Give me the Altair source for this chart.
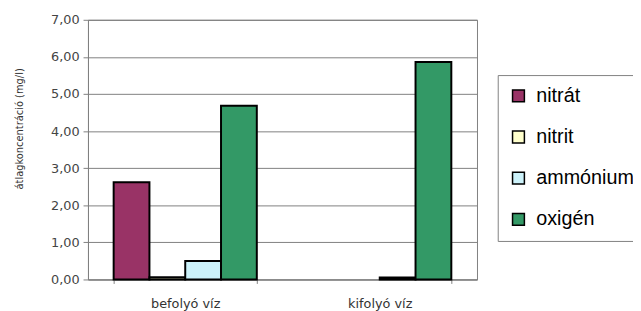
import altair as alt
import pandas as pd

categories = ["befolyó víz", "kifolyó víz"]
series = ["nitrát", "nitrit", "ammónium", "oxigén"]
nitrat = [2.62, 0.0]
nitrit = [0.06, 0.0]
ammonium = [0.50, 0.05]
oxigen = [4.68, 5.86]
colors = ["#993366", "#FFFFCC", "#CCF2FA", "#339966"]
y_ticks = [0, 1, 2, 3, 4, 5, 6, 7]

rows = []
for s, vals in zip(series, [nitrat, nitrit, ammonium, oxigen]):
    for c, v in zip(categories, vals):
        rows.append({"hely": c, "anyag": s, "ertek": v})
df = pd.DataFrame(rows)

chart = (
    alt.Chart(df)
    .transform_filter("datum.ertek > 0")
    .mark_bar(stroke="black", strokeWidth=2)
    .encode(
        x=alt.X(
            "hely:N",
            sort=categories,
            scale=alt.Scale(domain=categories, paddingInner=0.264, paddingOuter=0.132),
            axis=alt.Axis(
                title=None,
                labelAngle=0,
                tickBand="extent",
                tickSize=4,
                labelPadding=14,
                labelFontSize=13,
                labelFont="DejaVu Sans",
                labelColor="#333333",
            ),
        ),
        xOffset=alt.XOffset(
            "anyag:N", sort=series, scale=alt.Scale(domain=series, paddingInner=0, paddingOuter=0)
        ),
        y=alt.Y(
            "ertek:Q",
            scale=alt.Scale(domain=[0, 7], nice=False),
            axis=alt.Axis(
                values=y_ticks,
                labelExpr="replace(format(datum.value, '.2f'), '.', ',')",
                grid=True,
                tickSize=5,
                labelPadding=4,
                labelFontSize=13,
                labelFont="DejaVu Sans",
                labelColor="#444444",
                title="átlagkoncentráció (mg/l)",
                titleFontSize=10,
                titleFont="DejaVu Sans",
                titleFontWeight="normal",
                titleColor="#333333",
                titleX=-69,
                titleY=110,
                titleAngle=270,
                titleAlign="center",
                titleBaseline="middle",
            ),
        ),
        color=alt.Color(
            "anyag:N",
            sort=series,
            scale=alt.Scale(domain=series, range=colors),
            legend=alt.Legend(
                title=None,
                orient="none",
                legendX=415,
                legendY=56,
                strokeColor="#808080",
                fillColor="white",
                padding=11,
                symbolType="square",
                symbolSize=144,
                symbolStrokeColor="black",
                symbolStrokeWidth=1.5,
                labelFontSize=20,
                labelFont="Liberation Sans",
                labelColor="black",
                rowPadding=21.7,
                labelOffset=8,
            ),
        ),
    )
    .properties(
        width=394,
        height=263,
        autosize=alt.AutoSizeParams(type="none"),
        padding={"left": 81, "top": 10, "right": 158, "bottom": 30},
        background="white",
    )
    .configure_view(stroke="#808080", strokeWidth=1)
    .configure_axis(
        domainColor="#808080",
        gridColor="#808080",
        tickColor="#808080",
        gridWidth=1,
        domainWidth=1,
    )
)

chart.save("out.html", embed_options={"renderer": "svg", "actions": False})
